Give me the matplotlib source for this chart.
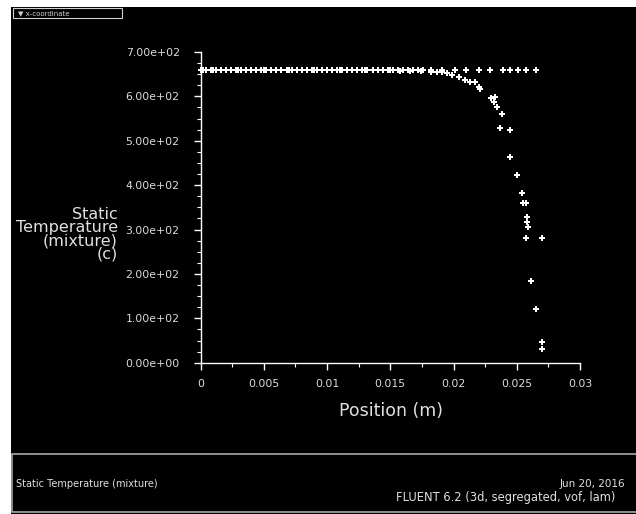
import numpy as np
import matplotlib
matplotlib.use("Agg")
import matplotlib.pyplot as plt
from matplotlib.patches import Rectangle
from matplotlib.ticker import MultipleLocator

plt.rcParams['font.family'] = ['DejaVu Sans']

# flat row of points (x in m, T in c)
x_flat = [0.0000, 0.0004, 0.0008, 0.0012, 0.0016, 0.0020, 0.0024, 0.0028, 0.0032,
          0.0036, 0.0040, 0.0044, 0.0048, 0.0052, 0.0056, 0.0060, 0.0064, 0.0068,
          0.0072, 0.0076, 0.0080, 0.0084, 0.0088, 0.0092, 0.0096, 0.0100, 0.0104,
          0.0108, 0.0112, 0.0116, 0.0120, 0.0124, 0.0128, 0.0132, 0.0136, 0.0140,
          0.0144, 0.0148, 0.0152, 0.0156, 0.0160, 0.0164, 0.0168, 0.0172, 0.0176,
          0.0182, 0.0191, 0.0201, 0.0210, 0.0220, 0.0229, 0.0239, 0.0245, 0.0251,
          0.0257, 0.0265]
t_flat = [660] * len(x_flat)

# dropping row of points
x_drop = [0.0002, 0.0010, 0.0030, 0.0050, 0.0070, 0.0090, 0.0110, 0.0130, 0.0150,
          0.0158, 0.0166, 0.0174, 0.0182, 0.0187, 0.0191, 0.0195, 0.0199, 0.0204,
          0.0209, 0.0213, 0.0217, 0.0220, 0.0221, 0.0230, 0.0233, 0.0232, 0.0234,
          0.0238, 0.0237, 0.0245, 0.0245, 0.0250, 0.0254, 0.0255, 0.0257, 0.0258,
          0.0258, 0.0259, 0.0257, 0.0270, 0.0261, 0.0265, 0.0270, 0.0270]
t_drop = [660, 660, 660, 660, 660, 660, 660, 659, 659,
          658, 658, 657, 656, 656, 656, 652, 648, 644,
          637, 633, 633, 622, 616, 596, 599, 588, 577,
          560, 528, 524, 464, 424, 383, 360, 360, 329,
          318, 306, 280, 282, 184, 120, 47, 30]

W, H = 636, 514
fig = plt.figure(figsize=(W / 100, H / 100), dpi=100, facecolor='white')

def fx(px):
    return px / W

def fy(py):
    return 1 - py / H

# black plot window
fig.patches.append(Rectangle((fx(11), 0), 1, fy(7), transform=fig.transFigure,
                             facecolor='black', edgecolor='none', zorder=0))
# legend tab at top left
fig.patches.append(Rectangle((fx(13), fy(18)), fx(109), 10 / H, transform=fig.transFigure,
                             facecolor='black', edgecolor='#d0d0d0', lw=0.8, zorder=1))
fig.text(fx(18), fy(13), '\u25bc x-coordinate', color='#d0d0d0', fontsize=5,
         va='center', ha='left')

# bottom info panel
fig.patches.append(Rectangle((fx(12), fy(512)), 1, (512 - 454) / H, transform=fig.transFigure,
                             facecolor='black', edgecolor='#a8a8a8', lw=1.2, zorder=1))
fig.text(fx(16), fy(484), 'Static Temperature (mixture)', color='#e0e0e0', fontsize=7,
         va='center', ha='left')
fig.text(fx(625), fy(484), 'Jun 20, 2016', color='#e0e0e0', fontsize=7.5,
         va='center', ha='right')
fig.text(fx(615), fy(498), 'FLUENT 6.2 (3d, segregated, vof, lam)', color='#e0e0e0',
         fontsize=8.3, va='center', ha='right')

ax = fig.add_axes([fx(200.5), fy(362.7), fx(580) - fx(200.5), fy(52) - fy(362.7)])
ax.set_zorder(5)
ax.patch.set_alpha(0)

ax.plot(x_flat, t_flat, linestyle='none', marker='P', ms=4.5, color='white', mew=0,
        clip_on=False)
ax.plot(x_drop, t_drop, linestyle='none', marker='P', ms=4.5, color='white', mew=0,
        clip_on=False)

ax.set_xlim(0, 0.03)
ax.set_ylim(0, 700)
for s in ['top', 'right']:
    ax.spines[s].set_visible(False)
for s in ['left', 'bottom']:
    ax.spines[s].set_color('white')
    ax.spines[s].set_linewidth(1.0)

ax.xaxis.set_minor_locator(MultipleLocator(0.0025))
ax.yaxis.set_minor_locator(MultipleLocator(25))
ax.set_xticks([0, 0.005, 0.01, 0.015, 0.02, 0.025, 0.03])
ax.set_xticklabels(['0', '0.005', '0.01', '0.015', '0.02', '0.025', '0.03'])
ax.set_yticks(np.arange(0, 701, 100))
ax.set_yticklabels(['%.2e' % v for v in np.arange(0, 701, 100)])

ax.tick_params(which='major', colors='white', labelcolor='#dddddd', labelsize=7.8,
               direction='out', length=5, width=1.0, pad=10)
ax.tick_params(which='minor', colors='white', direction='out', length=3, width=0.8)
ax.tick_params(axis='x', which='major', pad=7)

fig.text(fx(391), fy(411), 'Position (m)', color='#e0e0e0', fontsize=12.5,
         ha='center', va='center')
fig.text(fx(118), fy(234), 'Static\nTemperature\n(mixture)\n(c)', color='#e0e0e0',
         fontsize=11.5, ha='right', va='center', linespacing=0.85)

fig.savefig('out.png', dpi=100, facecolor='white')
